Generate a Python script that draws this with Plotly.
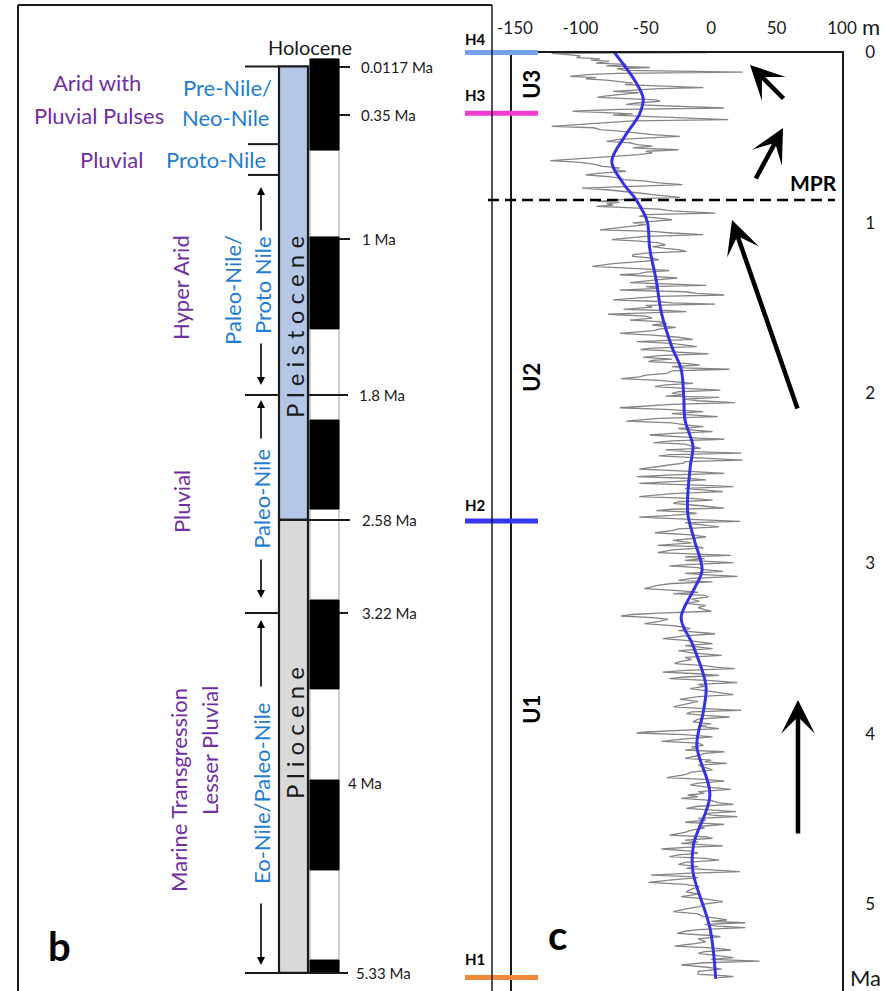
import plotly.graph_objects as go

FIG_W, FIG_H = 885, 991
FONT = "Lato, Carlito, Calibri, sans-serif"

# ---------------- panel c data: sea level (m) vs age (Ma) ----------------
gray_record = [
    (0.000, -3), (0.005, -122), (0.012, -110), (0.020, -100), (0.030, -103), (0.038, -85),
    (0.045, -92), (0.052, -78), (0.062, -88), (0.070, -65), (0.078, -80), (0.088, -47),
    (0.095, -72), (0.105, -66), (0.115, 24), (0.122, -72), (0.130, -95), (0.140, -108),
    (0.148, -88), (0.155, -96), (0.162, -80), (0.170, -70), (0.180, -60), (0.189, -66),
    (0.198, -35), (0.206, -6), (0.212, -40), (0.220, -62), (0.228, -75), (0.236, -55),
    (0.245, -70), (0.255, -80), (0.263, -87), (0.270, -60), (0.278, -42), (0.287, -39),
    (0.295, -55), (0.305, -65), (0.315, -30), (0.326, 10), (0.334, -70), (0.345, -106),
    (0.352, -85), (0.360, -60), (0.368, -75), (0.378, -40), (0.386, -20), (0.394, 13),
    (0.402, -60), (0.412, -80), (0.422, -95), (0.434, -122), (0.442, -90), (0.453, -85),
    (0.462, -70), (0.472, -58), (0.482, -45), (0.492, -24), (0.500, -50), (0.510, -70),
    (0.522, -80), (0.530, -62), (0.541, -57), (0.550, -45), (0.560, -60), (0.571, -25),
    (0.580, -50), (0.590, -45), (0.600, -55), (0.610, -75), (0.620, -95), (0.635, -123),
    (0.645, -100), (0.655, -90), (0.669, -83), (0.678, -70), (0.688, -75), (0.698, -65),
    (0.708, -85), (0.718, -96), (0.728, -80), (0.738, -70), (0.747, -67), (0.755, -50),
    (0.765, -40), (0.776, -22), (0.786, -60), (0.796, -99), (0.806, -80), (0.815, -65),
    (0.825, -55), (0.835, -45), (0.843, -35), (0.851, -24), (0.860, -60), (0.868, -75),
    (0.874, -87), (0.880, -70), (0.888, -80), (0.896, -75), (0.903, -88), (0.912, -60),
    (0.920, -40), (0.930, -30), (0.943, 3), (0.952, -50), (0.962, -55), (0.972, -40),
    (0.982, -30), (0.992, -45), (1.001, -60), (1.011, -50), (1.020, -60), (1.030, -75),
    (1.041, -85), (1.050, -45), (1.060, -30), (1.070, -6), (1.080, -50), (1.090, -65),
    (1.099, -76), (1.108, -55), (1.118, -40), (1.129, -35), (1.140, -45), (1.150, -35),
    (1.158, -25), (1.168, -19), (1.178, -50), (1.188, -60), (1.197, -60), (1.207, -45),
    (1.217, -40), (1.227, -52), (1.240, -75), (1.256, -91), (1.265, -60), (1.273, -45),
    (1.281, -32), (1.290, -50), (1.298, -55), (1.305, -70), (1.315, -45), (1.324, -26),
    (1.334, -40), (1.344, -57),
    (1.351, -62), (1.360, -30), (1.368, -4), (1.375, -50), (1.385, -40), (1.395, -70),
    (1.405, -20), (1.414, -11), (1.424, 10), (1.432, -40), (1.442, -55), (1.453, -75),
    (1.462, -40), (1.470, -30), (1.477, 3), (1.485, -50), (1.495, -45), (1.508, -67),
    (1.515, -35), (1.522, -19), (1.530, -55), (1.537, -79), (1.548, -50), (1.560, -45),
    (1.571, -62), (1.580, -40), (1.590, -34), (1.600, -45), (1.614, -27), (1.624, -40),
    (1.633, -44), (1.640, -55), (1.649, -70), (1.660, -45), (1.672, -25), (1.684, -14),
    (1.690, -40), (1.698, -57), (1.708, -30), (1.718, -20), (1.727, -11), (1.736, -45),
    (1.744, -54), (1.751, -35), (1.760, -25), (1.770, -2), (1.780, -40), (1.790, -52),
    (1.800, -30), (1.808, -45), (1.815, -48), (1.825, -20), (1.835, -9), (1.845, -30),
    (1.852, -20), (1.860, 14), (1.870, -30), (1.884, -34), (1.895, -50), (1.905, -55),
    (1.915, -69), (1.925, -40), (1.935, -25), (1.943, -14), (1.952, -35), (1.962, -43),
    (1.972, -20), (1.982, 7), (1.992, -25), (2.002, -30), (2.011, -21), (2.018, -35),
    (2.025, 6), (2.035, -20), (2.045, -10), (2.056, 18), (2.066, -30), (2.076, -50),
    (2.086, -70), (2.095, -35), (2.102, -20), (2.109, -6), (2.120, -30), (2.128, -10),
    (2.138, 5), (2.148, -40), (2.156, -55), (2.164, -65), (2.175, -30), (2.187, -20),
    (2.197, -6), (2.208, -25), (2.216, -15), (2.226, 1), (2.236, -30), (2.246, -47),
    (2.258, -20), (2.264, -10), (2.271, 10), (2.281, -30), (2.291, -44), (2.300, -20),
    (2.312, -15), (2.324, -8), (2.333, -35), (2.342, -20), (2.353, 23), (2.361, -30),
    (2.369, -40), (2.380, -10), (2.393, 24), (2.402, -20), (2.412, -21), (2.425, -35),
    (2.436, -45), (2.447, -55), (2.458, -20), (2.471, 10), (2.480, -30), (2.490, -57),
    (2.500, -20), (2.510, -4), (2.520, -30), (2.530, -55), (2.540, -10), (2.549, 17),
    (2.560, -20), (2.568, -5), (2.578, 9), (2.590, -30), (2.600, -45), (2.608, -55),
    (2.618, -15), (2.628, 1), (2.638, -25), (2.647, -29), (2.660, -10), (2.675, 10),
    (2.682, -30), (2.690, -42), (2.698, -20), (2.706, -11),
    (2.718, -30), (2.728, -55), (2.740, -20), (2.753, 22), (2.762, -20), (2.772, -10),
    (2.786, 6), (2.797, -25), (2.808, -30), (2.820, -43), (2.832, -15), (2.845, -4),
    (2.855, -20), (2.865, -29), (2.880, -15), (2.894, -41), (2.902, -10), (2.909, -6),
    (2.920, -30), (2.937, -41), (2.945, -10), (2.953, 15), (2.962, -20), (2.972, -5),
    (2.982, -20), (2.996, 17), (3.006, -15), (3.015, -32), (3.025, -10), (3.036, -5),
    (3.047, 9), (3.058, -20), (3.066, -5), (3.076, 20), (3.088, -15), (3.100, -25),
    (3.109, 1), (3.118, -30), (3.128, -40), (3.138, -45), (3.148, -51), (3.160, -25),
    (3.170, -10), (3.178, -29), (3.188, -5), (3.197, -2), (3.210, -15), (3.223, -9),
    (3.235, -20), (3.246, -4), (3.260, -10), (3.272, -5), (3.281, 0), (3.292, -40),
    (3.300, -60), (3.309, -69), (3.318, -45), (3.328, -33), (3.340, -40), (3.354, -51),
    (3.365, -30), (3.375, -20), (3.383, -16), (3.395, -25), (3.405, -10), (3.413, 3),
    (3.425, -20), (3.435, -30), (3.442, -37), (3.455, -15), (3.471, 1), (3.483, -20),
    (3.492, -10), (3.501, 1), (3.512, -25), (3.525, -15), (3.540, 8), (3.552, -20),
    (3.565, -15), (3.578, -25), (3.589, -28), (3.600, -5), (3.610, 5), (3.618, 18),
    (3.628, -20), (3.638, -37), (3.648, -10), (3.657, 6), (3.667, -20), (3.677, -32),
    (3.688, 0), (3.700, 20), (3.710, -10), (3.722, -5), (3.735, -16), (3.748, -5),
    (3.760, 5), (3.771, 17), (3.782, -10), (3.798, -24), (3.810, -10), (3.825, -20),
    (3.843, -29), (3.853, -5), (3.863, 23), (3.872, -15), (3.882, -19), (3.892, -5),
    (3.902, 14), (3.915, -10), (3.931, -14), (3.942, 0), (3.955, -10), (3.970, 6),
    (3.982, -30), (3.990, -50), (3.996, -57), (4.005, -20), (4.019, 1), (4.030, -20),
    (4.045, -38), (4.055, -10), (4.068, -6),
    (4.078, -15), (4.086, -10), (4.096, -20), (4.106, 10), (4.116, -5), (4.128, -10),
    (4.145, -20), (4.155, 0), (4.165, -5), (4.174, 12), (4.185, -10), (4.198, -5),
    (4.213, 1), (4.225, -15), (4.240, -20), (4.258, -34), (4.268, -5), (4.278, 10),
    (4.290, -10), (4.301, -16), (4.312, -5), (4.327, 15), (4.340, -10), (4.350, -5),
    (4.360, -18), (4.370, -10), (4.380, -23), (4.392, 0), (4.405, 5), (4.415, 17),
    (4.426, -10), (4.438, -19), (4.448, 5), (4.458, 19), (4.468, -5), (4.478, 0),
    (4.487, 20), (4.497, -10), (4.507, -4), (4.520, -20), (4.532, 10), (4.545, -10),
    (4.555, -5), (4.566, -15), (4.580, -20), (4.595, -32), (4.605, -5), (4.614, 1),
    (4.625, -20), (4.635, -10), (4.644, -23), (4.652, -5), (4.659, 9), (4.668, -20),
    (4.677, -38), (4.690, -15), (4.702, -10), (4.712, -25), (4.722, -32), (4.732, -5),
    (4.742, 6), (4.755, -20), (4.767, -25), (4.780, -10), (4.791, -19), (4.800, 0),
    (4.810, 22), (4.820, -20), (4.830, -46), (4.838, -20), (4.845, -10), (4.858, -30),
    (4.873, -48), (4.885, -20), (4.898, -9), (4.912, -15), (4.928, -19), (4.942, -10),
    (4.957, -23), (4.970, -5), (4.986, 9), (5.000, -5), (5.016, -9), (5.030, -20),
    (5.045, -29), (5.058, -10), (5.074, -6), (5.085, 5), (5.094, 12), (5.102, 0),
    (5.110, 26), (5.120, -5), (5.130, 5), (5.139, 26), (5.150, -10), (5.160, -20),
    (5.173, -26), (5.185, 0), (5.192, 7), (5.205, -10), (5.222, -4), (5.235, -15),
    (5.247, -28), (5.258, 0), (5.270, 15), (5.280, -5), (5.290, -10), (5.303, 5),
    (5.315, 17), (5.325, 0), (5.335, 37), (5.345, -5), (5.358, -23), (5.370, -5),
    (5.382, 8), (5.395, -10), (5.413, -10), (5.420, 10), (5.427, 17), (5.432, 5),
]
sl_age = [a for a, v in gray_record]
sl_val = [v for a, v in gray_record]

trend_age = [0.00, 0.17, 0.27, 0.365, 0.48, 0.64, 0.76, 0.87, 0.99, 1.15, 1.34, 1.53, 1.73,
             1.86, 2.02, 2.16, 2.31, 2.43, 2.70, 2.86, 3.04, 3.15, 3.32, 3.48, 3.72, 3.87,
             4.07, 4.36, 4.65, 4.81, 5.14, 5.44]
trend_val = [-74, -58, -52, -55, -65, -76, -68, -57, -49, -47, -42, -38, -30,
             -23, -21, -20, -14, -16, -18, -13, -7, -13, -23, -14, -4, -6,
             -11, -1, -13.5, -14, -1, 3.5]

x_tick_vals = [-150, -100, -50, 0, 50, 100]
y_tick_vals = [0, 1, 2, 3, 4, 5]

# seismic horizons and units (age, Ma)
horizon_names = ["H4", "H3", "H2", "H1"]
horizon_age = [0.0, 0.357, 2.751, 5.431]
horizon_color = ["#73a2f0", "#f03ccf", "#3737f0", "#f08a3a"]
unit_names = ["U3", "U2", "U1"]
unit_pos = [0.19, 1.91, 3.86]
mpr_age = 0.866

# ---------------- panel b schematic (positions on the same vertical scale) ----------------
polarity_normal = [(0.038, 0.573), (1.083, 1.623), (2.158, 2.681),
                   (3.215, 3.737), (4.272, 4.800), (5.329, 5.405)]
epoch_names = ["Pleistocene", "Pliocene"]
epoch_top = [0.082, 2.745]
epoch_bottom = [2.745, 5.405]
epoch_fill = ["#b4c7e7", "#d9d9d9"]
age_labels = ["0.0117 Ma", "0.35 Ma", "1 Ma", "1.8 Ma", "2.58 Ma", "3.22 Ma", "4 Ma", "5.33 Ma"]
age_label_pos = [0.085, 0.367, 1.095, 2.011, 2.745, 3.291, 4.289, 5.405]

PURPLE = "#7030a0"
BLUE = "#1f7ed0"
INK = "#1a1a1a"

TOP_PX = 52.5
PX_PER_MA = 170.3
y_bottom = (FIG_H - TOP_PX) / PX_PER_MA
y2_top = -TOP_PX / PX_PER_MA

fig = go.Figure()
fig.add_trace(go.Scatter(x=sl_val, y=sl_age, mode="lines",
                         line=dict(color="#858585", width=1.3),
                         xaxis="x", yaxis="y", showlegend=False, hoverinfo="skip"))
fig.add_trace(go.Scatter(x=trend_val, y=trend_age, mode="lines",
                         line=dict(color="#3434e0", width=3, shape="spline", smoothing=1.0),
                         xaxis="x", yaxis="y", showlegend=False, hoverinfo="skip"))
for nm, ag, col in zip(horizon_names, horizon_age, horizon_color):
    fig.add_trace(go.Scatter(x=[465, 538], y=[ag, ag], mode="lines",
                             line=dict(color=col, width=5),
                             xaxis="x2", yaxis="y2", showlegend=False, hoverinfo="skip"))

shapes = []
annos = []


def line(x0, y0, x1, y1, w=2, color=INK, dash=None):
    d = dict(type="line", xref="x2", yref="y2", x0=x0, y0=y0, x1=x1, y1=y1,
             line=dict(color=color, width=w))
    if dash:
        d["line"]["dash"] = dash
    shapes.append(d)


def rect(x0, y0, x1, y1, fill, lc=INK, lw=2):
    shapes.append(dict(type="rect", xref="x2", yref="y2", x0=x0, y0=y0, x1=x1, y1=y1,
                       fillcolor=fill, line=dict(color=lc, width=lw), layer="above"))


def txt(x, y, s, size, color=INK, angle=0, bold=False, xanchor="center"):
    annos.append(dict(xref="x2", yref="y2", x=x, y=y, text=f"<b>{s}</b>" if bold else s,
                      showarrow=False, textangle=angle, xanchor=xanchor, yanchor="middle",
                      font=dict(family=FONT, size=size, color=color)))


def arrow(xt, yt, xh, yh, w, size, head=2):
    annos.append(dict(xref="x2", yref="y2", axref="x2", ayref="y2", x=xh, y=yh, ax=xt, ay=yt,
                      text="", showarrow=True, arrowhead=head, arrowwidth=w, arrowsize=size,
                      arrowcolor="#000", standoff=0, startstandoff=0))


# panel b frame
line(18, -0.279, 492, -0.279, 2)
line(18, -0.279, 18, y_bottom + 0.1, 2)
line(492, -0.279, 492, y_bottom + 0.1, 1.5)

# polarity column
rect(310, 0.038, 339, 5.405, "white", lc="#c0c0c0", lw=1.5)
for a0, a1 in polarity_normal:
    rect(310, a0, 339, a1, "black", lc="black", lw=1)
# epoch column
for nm, t, b, f in zip(epoch_names, epoch_top, epoch_bottom, epoch_fill):
    rect(279, t, 308, b, f, lc=INK, lw=2.2)

# ticks and brackets
for pos, x0, x1 in [(0.085, 339, 350), (0.367, 339, 350), (1.095, 339, 350),
                    (2.011, 308, 348), (2.745, 308, 350), (3.291, 339, 348), (5.405, 308, 348)]:
    line(x0, pos, x1, pos, 2)
for pos, x0, x1 in [(0.082, 245, 279), (0.538, 248, 279), (0.719, 248, 279),
                    (2.011, 245, 279), (3.291, 245, 279), (5.405, 245, 279)]:
    line(x0, pos, x1, pos, 2)

label_x = [359, 359, 360, 357, 360, 360, 346, 354]
for s, p, lx in zip(age_labels, age_label_pos, label_x):
    txt(lx, p, s, 15, INK, xanchor="left")

txt(310, -0.032, "Holocene", 20, INK)
sp = "\u00a0"
txt(294, 1.612, sp.join("Pleistocene"), 24, INK, angle=-90)
txt(294, 3.996, sp.join("Pliocene"), 24, INK, angle=-90)

# climate / river phases
txt(97, 0.179, "Arid with", 22, PURPLE)
txt(99, 0.367, "Pluvial Pulses", 22, PURPLE)
txt(111, 0.631, "Pluvial", 22, PURPLE)
txt(227, 0.203, "Pre-Nile/", 22, BLUE)
txt(225, 0.379, "Neo-Nile", 22, BLUE)
txt(216, 0.631, "Proto-Nile", 22, BLUE)
txt(180, 1.383, "Hyper Arid", 22, PURPLE, angle=-90)
txt(233, 1.394, "Paleo-Nile/", 22, BLUE, angle=-90)
txt(263, 1.365, "Proto Nile", 22, BLUE, angle=-90)
txt(181, 2.64, "Pluvial", 22, PURPLE, angle=-90)
txt(262, 2.621, "Paleo-Nile", 22, BLUE, angle=-90)
txt(179, 4.33, "Marine Transgression", 22, PURPLE, angle=-90)
txt(210, 4.101, "Lesser Pluvial", 22, PURPLE, angle=-90)
txt(262, 4.354, "Eo-Nile/Paleo-Nile", 22, BLUE, angle=-90)

# double arrows
for (t0, h0), (t1, h1) in [((1.054, 0.79), (1.700, 1.952)),
                           ((2.275, 2.040), (2.968, 3.203)),
                           ((3.732, 3.332), (4.988, 5.358))]:
    arrow(261, t0, 261, h0, 1.6, 1.0)
    arrow(261, t1, 261, h1, 1.6, 1.0)

txt(59, 5.247, "b", 40, "#000", bold=True)

# panel c decorations
for nm, ag, pos in zip(horizon_names, horizon_age, [-0.079, 0.25, 2.657, 5.323]):
    txt(475, pos, nm, 15, "#000", bold=True)
for nm, pos in zip(unit_names, unit_pos):
    txt(532, pos, nm, 22, "#000", angle=-90, bold=True)
line(488, mpr_age, 835, mpr_age, 2.5, "#000", dash="11px,6px")
txt(813, 0.766, "MPR", 21, "#000", bold=True)
txt(557, 5.18, "c", 40, "#000", bold=True)
txt(871, -0.15, "m", 22, INK)
txt(865, 5.43, "Ma", 22, INK)

arrow(785, 0.279, 750, 0.073, 4.5, 1.25, head=3)
arrow(755, 0.749, 783, 0.443, 4.5, 1.25, head=3)
arrow(798, 2.099, 732, 0.984, 4.5, 1.25, head=3)
arrow(798, 4.595, 798, 3.802, 4.5, 1.25, head=3)

fig.update_layout(
    width=FIG_W, height=FIG_H, autosize=False,
    margin=dict(l=0, r=0, t=0, b=0, pad=0, autoexpand=False),
    paper_bgcolor="white", plot_bgcolor="rgba(0,0,0,0)",
    showlegend=False,
    xaxis=dict(domain=[512 / FIG_W, 842 / FIG_W], range=[-152.3, 100], side="top",
               tickvals=x_tick_vals, ticktext=[str(v) for v in x_tick_vals],
               ticks="outside", ticklen=10, tickcolor="rgba(0,0,0,0)",
               showline=True, linecolor=INK, linewidth=1.5, showgrid=False, zeroline=False,
               automargin=False,
               tickfont=dict(family=FONT, size=17, color=INK), anchor="y", fixedrange=True),
    yaxis=dict(domain=[0, 1 - TOP_PX / FIG_H], range=[y_bottom, 0], side="right",
               tickvals=y_tick_vals, ticktext=[str(v) for v in y_tick_vals],
               ticks="outside", ticklen=18, tickcolor="rgba(0,0,0,0)",
               showline=True, mirror=True, linecolor=INK, linewidth=1.8,
               showgrid=False, zeroline=False, automargin=False,
               tickfont=dict(family=FONT, size=17, color=INK), anchor="x", fixedrange=True),
    xaxis2=dict(domain=[0, 1], range=[0, FIG_W], visible=False, anchor="y2",
                automargin=False, fixedrange=True),
    yaxis2=dict(domain=[0, 1], range=[y_bottom, y2_top], visible=False, anchor="x2",
                automargin=False, fixedrange=True),
    shapes=shapes,
    annotations=annos,
)

fig.write_html("out.html")
